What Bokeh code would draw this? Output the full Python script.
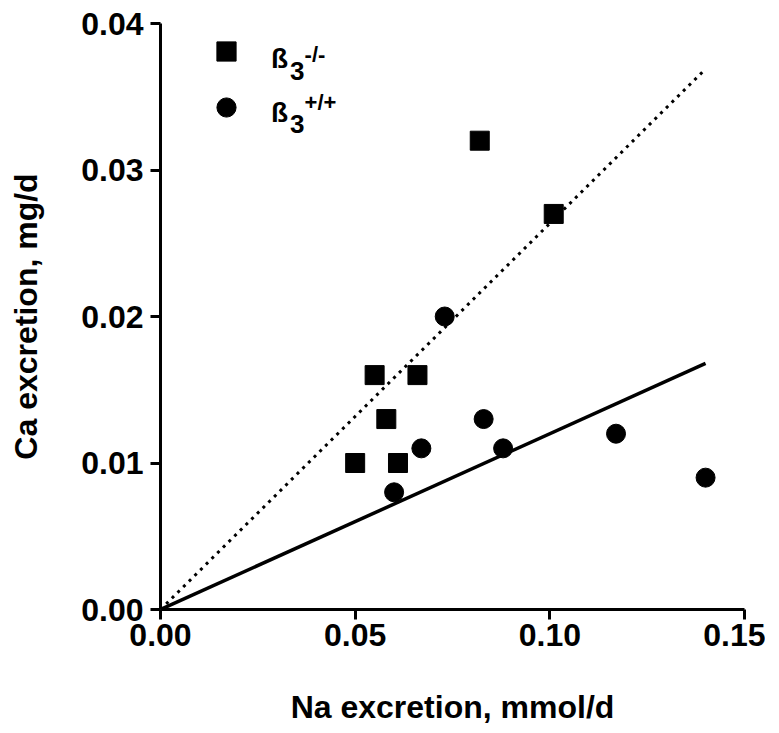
from bokeh.plotting import figure
from bokeh.models import Legend, LegendItem, Label, FixedTicker, NumeralTickFormatter
from bokeh.embed import file_html
from bokeh.resources import INLINE

# ---- data ----
ko_na = [0.082, 0.101, 0.055, 0.066, 0.058, 0.050, 0.061]   # beta3 -/- (squares)
ko_ca = [0.032, 0.027, 0.016, 0.016, 0.013, 0.010, 0.010]
wt_na = [0.073, 0.083, 0.067, 0.088, 0.117, 0.060, 0.140]   # beta3 +/+ (circles)
wt_ca = [0.020, 0.013, 0.011, 0.011, 0.012, 0.008, 0.009]
fit_x = [0.0, 0.14]
fit_ko_y = [0.0, 0.0369]
fit_wt_y = [0.0, 0.0168]
x_ticks = [0.0, 0.05, 0.10, 0.15]
y_ticks = [0.0, 0.01, 0.02, 0.03, 0.04]

FONT = "Liberation Sans"

p = figure(width=765, height=728, output_backend="svg", toolbar_location=None,
           x_range=(0, 0.15), y_range=(0, 0.04),
           min_border_left=160, min_border_right=21, min_border_top=23, min_border_bottom=119)
p.grid.visible = False
p.outline_line_color = None
p.background_fill_color = "white"

# regression lines
p.line(fit_x, fit_ko_y, line_color="black", line_width=3, line_dash="3 5")
p.line(fit_x, fit_wt_y, line_color="black", line_width=3.5)

sq = p.scatter(ko_na, ko_ca, marker="square", size=19, fill_color="black", line_color="black")
ci = p.scatter(wt_na, wt_ca, marker="circle", size=19, fill_color="black", line_color="black")

for ax in (p.xaxis[0], p.yaxis[0]):
    ax.axis_line_width = 3
    ax.axis_line_color = "black"
    ax.major_tick_line_width = 3
    ax.major_tick_line_color = "black"
    ax.major_tick_out = 10
    ax.major_tick_in = 0
    ax.minor_tick_line_color = None
    ax.major_label_text_font = FONT
    ax.major_label_text_font_style = "bold"
    ax.major_label_text_font_size = "32px"
    ax.major_label_text_color = "black"
    ax.axis_label_text_font = FONT
    ax.axis_label_text_font_style = "bold"
    ax.axis_label_text_font_size = "32px"
    ax.axis_label_text_color = "black"
    ax.formatter = NumeralTickFormatter(format="0.00")

p.xaxis.ticker = FixedTicker(ticks=x_ticks)
p.yaxis.ticker = FixedTicker(ticks=y_ticks)
p.xaxis.axis_label = "Na excretion, mmol/d"
p.yaxis.axis_label = "Ca excretion, mg/d"
p.xaxis.major_label_standoff = 4
p.yaxis.major_label_standoff = 7
p.xaxis.axis_label_standoff = 40
p.yaxis.axis_label_standoff = 34

legend = Legend(items=[LegendItem(label=" ", renderers=[sq]),
                       LegendItem(label=" ", renderers=[ci])],
                location=(42, 478), glyph_width=48, glyph_height=48, spacing=8,
                padding=0, margin=0, border_line_color=None, background_fill_alpha=0,
                label_text_font_size="10px")
p.add_layout(legend)

def lbl(x, y, t, size):
    p.add_layout(Label(x=x, y=y, text=t, text_font=FONT, text_font_style="bold",
                       text_font_size=size, text_color="black",
                       text_align="left", text_baseline="alphabetic"))

lbl(0.02835, 0.03761, "ß", "28px")
lbl(0.03325, 0.03679, "3", "26px")
lbl(0.03700, 0.03790, "-/-", "22px")
lbl(0.02835, 0.03392, "ß", "28px")
lbl(0.03325, 0.03317, "3", "26px")
lbl(0.03700, 0.03461, "+/+", "22px")

open("out.html", "w").write(file_html(p, INLINE))
